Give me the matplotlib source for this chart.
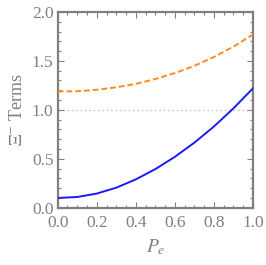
import numpy as np
import matplotlib
matplotlib.use('Agg')
import matplotlib.pyplot as plt
import matplotlib.ticker as mtick

# values
pe = [0.0, 0.1, 0.2, 0.3, 0.4, 0.5, 0.6, 0.7, 0.8, 0.9, 1.0]
term_solid = [0.10, 0.11, 0.145, 0.205, 0.29, 0.395, 0.52, 0.665, 0.83, 1.015, 1.22]
term_dashed = [1.187, 1.19, 1.205, 1.23, 1.265, 1.315, 1.375, 1.45, 1.54, 1.645, 1.77]
ref_level = 1.0

plt.rcParams['font.family'] = ['Liberation Serif', 'DejaVu Serif']
plt.rcParams['mathtext.fontset'] = 'stix'

gray = '#808080'

fig = plt.figure(figsize=(2.66, 2.65), dpi=100)
ax = fig.add_axes([0.217, 0.216, 0.734, 0.739])

ax.axhline(ref_level, color='#c8c8c8', lw=0.9, ls=(0, (1.5, 2)), zorder=1)
ax.plot(pe, term_dashed, color='#ff8c1a', lw=1.4, ls=(0, (3, 1.5)), zorder=3)
ax.plot(pe, term_solid, color='#1a1aff', lw=1.4, zorder=3)

ax.set_xlim(0, 1)
ax.set_ylim(0, 2)
ax.xaxis.set_major_locator(mtick.MultipleLocator(0.2))
ax.xaxis.set_minor_locator(mtick.MultipleLocator(0.05))
ax.yaxis.set_major_locator(mtick.MultipleLocator(0.5))
ax.yaxis.set_minor_locator(mtick.MultipleLocator(0.1))
ax.xaxis.set_major_formatter(mtick.FormatStrFormatter('%.1f'))
ax.yaxis.set_major_formatter(mtick.FormatStrFormatter('%.1f'))

for s in ax.spines.values():
    s.set_color(gray)
    s.set_linewidth(1.6)

ax.tick_params(which='both', direction='in', top=True, right=True, color=gray, width=0.8)
ax.tick_params(which='major', length=4, labelsize=12.5, labelcolor=gray)
ax.tick_params(which='minor', length=2)
ax.tick_params(axis='x', pad=5)
ax.tick_params(axis='y', pad=3)

ax.set_xlabel(r'$P_e$', fontsize=14, color=gray, labelpad=5)
ax.set_ylabel(r'$\Xi^{-}$ Terms', fontsize=13, color=gray, labelpad=4)

fig.savefig('out.png', dpi=100)
